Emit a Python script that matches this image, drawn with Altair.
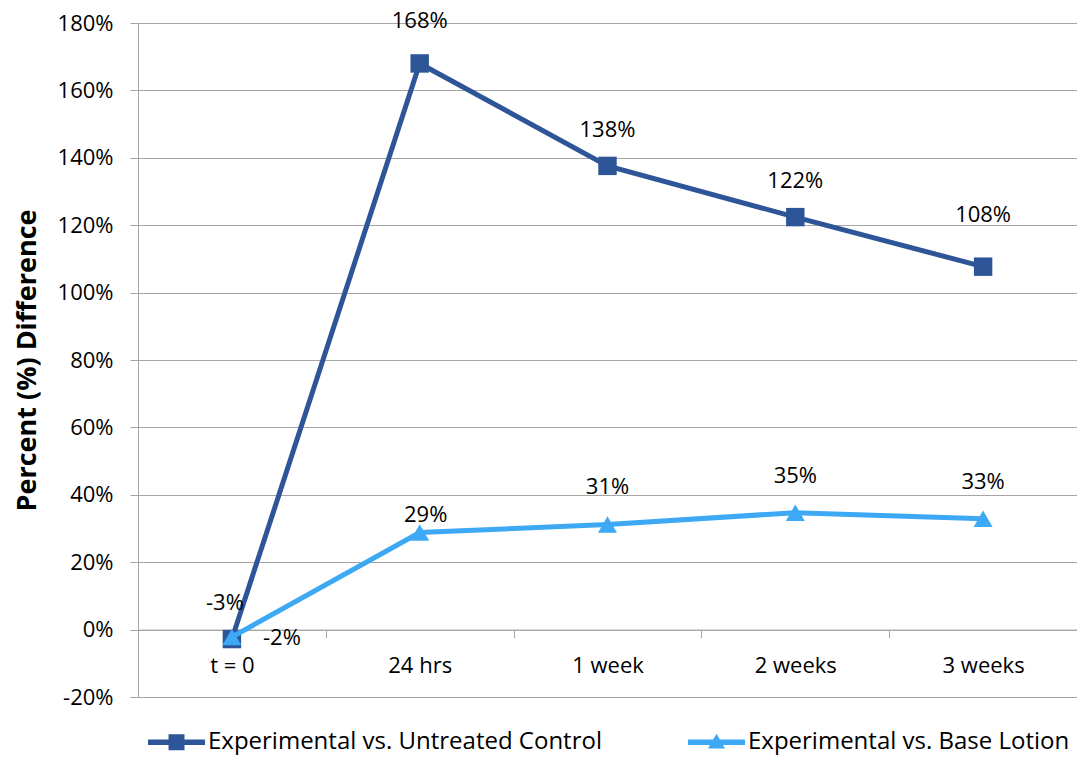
import altair as alt
import pandas as pd

# ---- data ----
categories = ["t = 0", "24 hrs", "1 week", "2 weeks", "3 weeks"]
series_names = ["Experimental vs. Untreated Control", "Experimental vs. Base Lotion"]
untreated_control = [-0.028, 1.680, 1.376, 1.224, 1.077]
base_lotion = [-0.022, 0.288, 0.312, 0.347, 0.329]
y_tick_values = [-0.2, 0.0, 0.2, 0.4, 0.6, 0.8, 1.0, 1.2, 1.4, 1.6, 1.8]

rows = []
for s, vals in zip(series_names, [untreated_control, base_lotion]):
    for c, v in zip(categories, vals):
        rows.append({"series": s, "category": c, "value": v})
df = pd.DataFrame(rows)

# ---- style ----
W, H = 939, 674
FONT = "Open Sans"
DARK = "#2E5597"
LIGHT = "#3DA9F5"
GRID = "#A6A6A6"
FS = 22

x_scale = alt.Scale(type="band", domain=categories, paddingInner=0, paddingOuter=0)
y_scale = alt.Scale(domain=[-0.2, 1.8], nice=False, zero=False)

x_axis = alt.Axis(
    orient="bottom", offset=-H * 0.2 / 2.0, title=None, grid=False,
    domainColor=GRID, domainWidth=1, tickColor=GRID, tickSize=8, tickBand="extent",
    labelFont=FONT, labelFontSize=FS, labelColor="black", labelPadding=18, labelAngle=0,
)
y_axis = alt.Axis(
    values=y_tick_values, format=".0%", grid=True, gridColor=GRID, gridWidth=1,
    domainColor=GRID, domainWidth=1, tickColor=GRID, tickSize=8,
    labelFont=FONT, labelFontSize=FS, labelColor="black", labelPadding=17,
    title="Percent (%) Difference", titleFont=FONT, titleFontSize=27,
    titleFontWeight="bold", titleColor="black", titlePadding=16,
)

X = alt.X("category:N", scale=x_scale, sort=categories, axis=x_axis)
Y = alt.Y("value:Q", scale=y_scale, axis=y_axis)

base = alt.Chart(df)


def series_line(name, color):
    return base.transform_filter(alt.datum.series == name).mark_line(
        color=color, strokeWidth=5
    ).encode(x=X, y=Y)


def series_marks(name, color, shape, size):
    return base.transform_filter(alt.datum.series == name).mark_point(
        shape=shape, filled=True, color=color, size=size, opacity=1
    ).encode(x=X, y=Y)


def labels(name, cats, dx, dy):
    return base.transform_filter(alt.datum.series == name).transform_filter(
        alt.FieldOneOfPredicate(field="category", oneOf=cats)
    ).mark_text(
        font=FONT, fontSize=FS, color="black", dx=dx, dy=dy, baseline="middle", align="center"
    ).encode(x=X, y=Y, text=alt.Text("value:Q", format=".0%"))


U, B = series_names

# legend symbols: line + marker custom paths
path_sq = "M-1,-0.1H1V0.1H-1Z M-0.28,-0.28H0.28V0.28H-0.28Z"
path_tri = "M-1,-0.1H1V0.1H-1Z M0,-0.3L0.3,0.22H-0.3Z"
leg = alt.Legend(
    orient="none", legendX=10, legendY=H + 16.5, direction="horizontal", title=None,
    symbolSize=3249, symbolStrokeWidth=0, symbolOpacity=1,
    labelFont=FONT, labelFontSize=24, labelColor="black", labelLimit=800,
    labelOffset=3, columnPadding=86, padding=0,
)
legend_layer = base.mark_point(filled=True, opacity=0).encode(
    x=X, y=Y,
    color=alt.Color("series:N", scale=alt.Scale(domain=series_names, range=[DARK, LIGHT]), legend=leg),
    shape=alt.Shape("series:N", scale=alt.Scale(domain=series_names, range=[path_sq, path_tri]), legend=leg),
)

chart = alt.layer(
    series_line(U, DARK),
    series_marks(U, DARK, "square", 340),
    series_line(B, LIGHT),
    series_marks(B, LIGHT, "triangle-up", 360),
    labels(U, ["t = 0"], -7, -36),
    labels(U, ["24 hrs"], 0, -42),
    labels(U, ["1 week", "2 weeks"], 0, -36),
    labels(U, ["3 weeks"], 0, -52),
    labels(B, ["t = 0"], 50, 1),
    labels(B, ["24 hrs"], 6, -18),
    labels(B, ["1 week", "2 weeks", "3 weeks"], 0, -37),
    legend_layer,
).properties(
    width=W, height=H,
    padding={"left": 130, "top": 15, "right": 0, "bottom": 60},
    autosize=alt.AutoSizeParams(type="none"),
    background="white",
).configure_view(stroke=None).configure(
    locale=alt.Locale(number=alt.NumberLocale(
        decimal=".", thousands=",", grouping=[3], currency=["$", ""], minus="-"
    ))
)

chart.save("out.html", embed_options={"renderer": "svg", "actions": False})
